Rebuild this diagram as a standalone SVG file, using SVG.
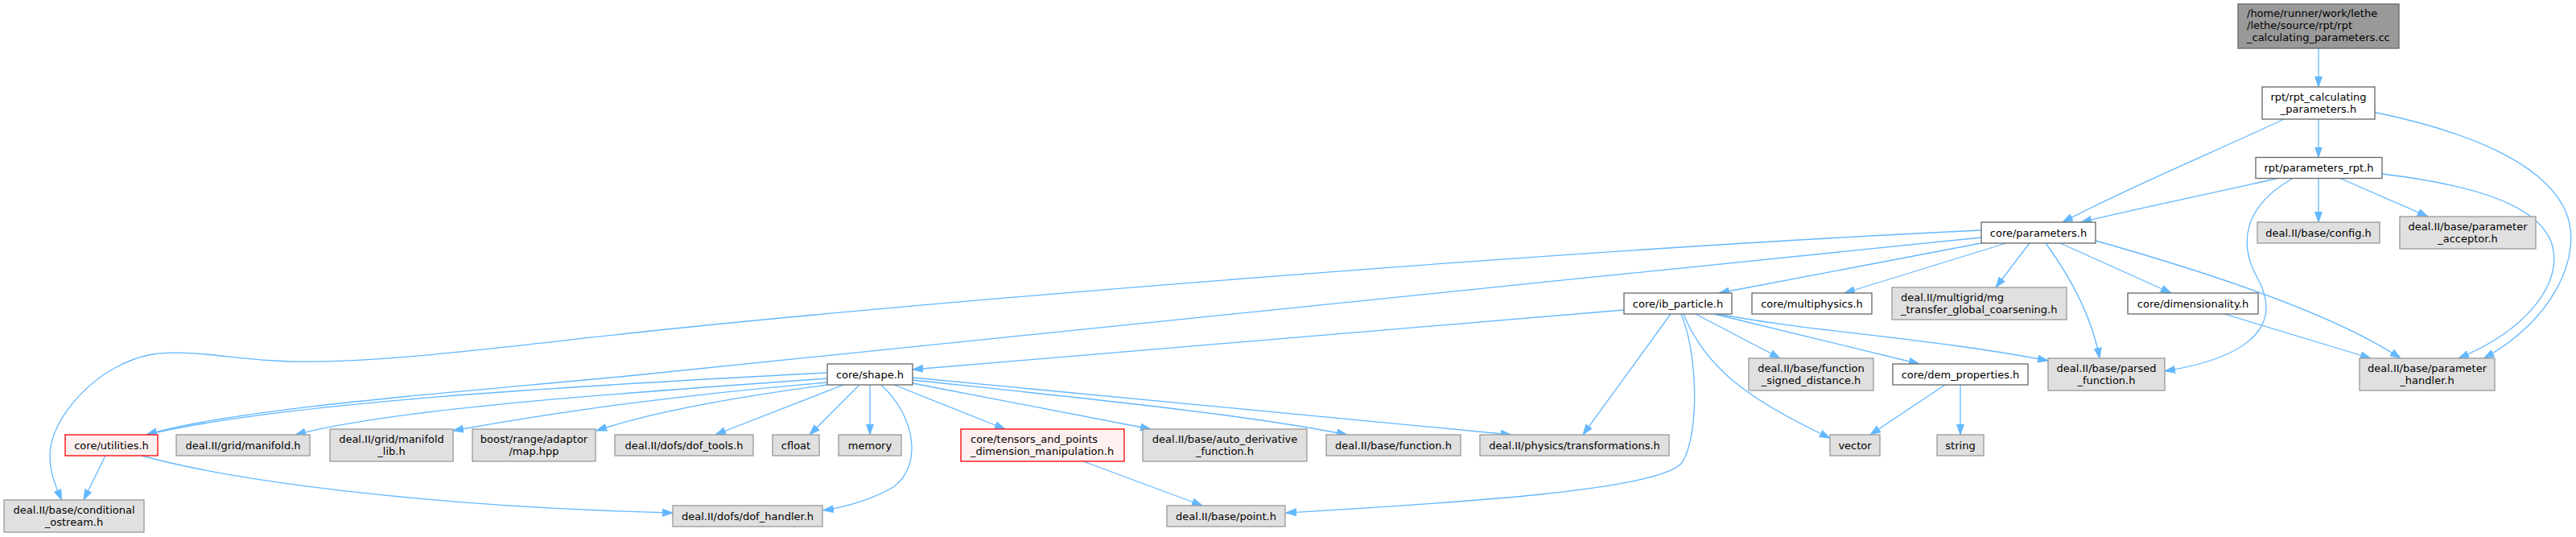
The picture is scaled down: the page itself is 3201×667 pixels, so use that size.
<svg xmlns="http://www.w3.org/2000/svg" width="3201" height="667" viewBox="0 0 3201 667">
<style>
rect{stroke-width:1.3}
.w rect{fill:#fff;stroke:#666}
.x rect{fill:#e0e0e0;stroke:#999}
.r rect{fill:#fff0f0;stroke:#f00}
.rt rect{fill:#999;stroke:#666}
text{font-family:"DejaVu Sans",sans-serif;font-size:13px;fill:#000}
.c text{text-anchor:middle}
#edges path{fill:none;stroke:#63B8FF;stroke-width:1.3;marker-end:url(#ah)}
</style>
<defs>
<marker id="ah" viewBox="0 0 14 10" refX="13" refY="5" markerWidth="14" markerHeight="10" markerUnits="userSpaceOnUse" orient="auto"><path d="M0,0.5 L13,5 L0,9.5 z" fill="#63B8FF" stroke="#63B8FF" stroke-width="1"/></marker>
</defs>
<rect x="0" y="0" width="3201" height="667" fill="#fff" stroke="none"/>
<g id="edges">
<path d="M2881,60 L2881,108"/>
<path d="M2881,148 L2881,195.5"/>
<path d="M2838,148 C2760,185 2640,235 2563,276"/>
<path d="M2951,139.5 C3060,162 3160,200 3188,262 C3212,318 3170,400 3086.5,445"/>
<path d="M2830,221.5 C2750,240 2660,258 2586,276"/>
<path d="M2881,221.5 L2881,276"/>
<path d="M2908,221.5 L3017,269"/>
<path d="M2960,216 C3060,228 3150,250 3170,300 C3188,350 3140,410 3055,445"/>
<path d="M2849,221.5 C2790,255 2780,300 2805,345 C2830,390 2820,440 2690,461"/>
<path d="M2462,286 C1950,310 1150,375 800,412 C620,431 450,455 340,448 C280,444 230,434 190,440 C120,452 62,520 62,565 C62,590 70,605 76.5,621"/>
<path d="M2462,295 C1900,352 1300,414 800,465 C600,485 300,505 182,540"/>
<path d="M2462,302 L2136,364"/>
<path d="M2493,302 L2292,364"/>
<path d="M2522,302 L2480,357"/>
<path d="M2542,302 C2566,335 2598,385 2609,445"/>
<path d="M2560,302 L2698,364"/>
<path d="M2604,299 C2750,340 2900,390 2983,445"/>
<path d="M2764,390 L2946,445"/>
<path d="M2018,385 L1134,459"/>
<path d="M2076,390 L1967,540"/>
<path d="M2089,390 C2110,440 2112,540 2090,575 C2060,610 1800,625 1598,637"/>
<path d="M2092,390 C2120,460 2180,500 2274,544"/>
<path d="M2107,390 L2212,445"/>
<path d="M2130,390 L2385,452"/>
<path d="M2135,390 C2250,412 2400,420 2545,448"/>
<path d="M1028,463 C700,480 350,500 182,540"/>
<path d="M1028,470 C800,487 500,505 367,540"/>
<path d="M1028,475 C850,490 700,510 563,535"/>
<path d="M1028,478 C900,495 800,515 741,535"/>
<path d="M1048,478 L889,540"/>
<path d="M1068,478 L1006,540"/>
<path d="M1081,478 L1081,540"/>
<path d="M1095,478 C1140,520 1145,580 1110,605 C1085,620 1050,630 1023,634"/>
<path d="M1111,478 L1249,533"/>
<path d="M1134,476 L1430,533"/>
<path d="M1134,472 C1350,495 1550,515 1674,540"/>
<path d="M1134,469 L1878,540"/>
<path d="M131,566 L104,621"/>
<path d="M176,566 C300,600 550,630 836,637"/>
<path d="M1346,573 L1494,628"/>
<path d="M2417,478 L2324,540"/>
<path d="M2436,478 L2436,540"/>
</g>
<g id="root" class="rt"><rect x="2781" y="5" width="200" height="55"/><text x="2792" y="21">/home/runner/work/lethe</text><text x="2792" y="36">/lethe/source/rpt/rpt</text><text x="2792" y="51">_calculating_parameters.cc</text></g>
<g id="rpt_calculating_parameters" class="w c"><rect x="2811" y="108" width="140" height="40"/><text x="2881" y="124.5">rpt/rpt_calculating</text><text x="2881" y="139.5">_parameters.h</text></g>
<g id="parameters_rpt" class="w c"><rect x="2803" y="195.5" width="157" height="26"/><text x="2881.5" y="213">rpt/parameters_rpt.h</text></g>
<g id="core_parameters" class="w c"><rect x="2462" y="276" width="142" height="26"/><text x="2533" y="293.5">core/parameters.h</text></g>
<g id="config" class="x c"><rect x="2805" y="276" width="152" height="26"/><text x="2881" y="293.5">deal.II/base/config.h</text></g>
<g id="parameter_acceptor" class="x c"><rect x="2982" y="269" width="169" height="40"/><text x="3066.5" y="285.5">deal.II/base/parameter</text><text x="3066.5" y="300.5">_acceptor.h</text></g>
<g id="ib_particle" class="w c"><rect x="2018" y="364" width="134" height="26"/><text x="2085" y="381.5">core/ib_particle.h</text></g>
<g id="multiphysics" class="w c"><rect x="2177" y="364" width="149" height="26"/><text x="2251.5" y="381.5">core/multiphysics.h</text></g>
<g id="mg_transfer" class="x"><rect x="2351" y="357" width="217" height="40"/><text x="2362" y="373.5">deal.II/multigrid/mg</text><text x="2362" y="388.5">_transfer_global_coarsening.h</text></g>
<g id="dimensionality" class="w c"><rect x="2644" y="364" width="162" height="26"/><text x="2725" y="381.5">core/dimensionality.h</text></g>
<g id="shape" class="w c"><rect x="1028" y="452" width="106" height="26"/><text x="1081" y="469.5">core/shape.h</text></g>
<g id="function_signed_distance" class="x c"><rect x="2173" y="445" width="155" height="40"/><text x="2250.5" y="461.5">deal.II/base/function</text><text x="2250.5" y="476.5">_signed_distance.h</text></g>
<g id="dem_properties" class="w c"><rect x="2352" y="452" width="168" height="26"/><text x="2436" y="469.5">core/dem_properties.h</text></g>
<g id="parsed_function" class="x c"><rect x="2545" y="445" width="145" height="40"/><text x="2617.5" y="461.5">deal.II/base/parsed</text><text x="2617.5" y="476.5">_function.h</text></g>
<g id="parameter_handler" class="x c"><rect x="2932" y="445" width="168" height="40"/><text x="3016" y="461.5">deal.II/base/parameter</text><text x="3016" y="476.5">_handler.h</text></g>
<g id="utilities" class="r c"><rect x="81" y="540" width="115" height="26"/><text x="138.5" y="557.5">core/utilities.h</text></g>
<g id="manifold" class="x c"><rect x="219" y="540" width="166" height="26"/><text x="302" y="557.5">deal.II/grid/manifold.h</text></g>
<g id="manifold_lib" class="x c"><rect x="410" y="533" width="153" height="40"/><text x="486.5" y="549.5">deal.II/grid/manifold</text><text x="486.5" y="564.5">_lib.h</text></g>
<g id="boost_map" class="x c"><rect x="587" y="533" width="153" height="40"/><text x="663.5" y="549.5">boost/range/adaptor</text><text x="663.5" y="564.5">/map.hpp</text></g>
<g id="dof_tools" class="x c"><rect x="764" y="540" width="172" height="26"/><text x="850" y="557.5">deal.II/dofs/dof_tools.h</text></g>
<g id="cfloat" class="x c"><rect x="960" y="540" width="58" height="26"/><text x="989" y="557.5">cfloat</text></g>
<g id="memory" class="x c"><rect x="1042" y="540" width="78" height="26"/><text x="1081" y="557.5">memory</text></g>
<g id="tensors" class="r"><rect x="1194" y="533" width="203" height="40"/><text x="1206" y="549.5">core/tensors_and_points</text><text x="1206" y="564.5">_dimension_manipulation.h</text></g>
<g id="auto_derivative" class="x c"><rect x="1420" y="533" width="204" height="40"/><text x="1522" y="549.5">deal.II/base/auto_derivative</text><text x="1522" y="564.5">_function.h</text></g>
<g id="function_h" class="x c"><rect x="1648" y="540" width="167" height="26"/><text x="1731.5" y="557.5">deal.II/base/function.h</text></g>
<g id="transformations" class="x c"><rect x="1839" y="540" width="235" height="26"/><text x="1956.5" y="557.5">deal.II/physics/transformations.h</text></g>
<g id="vector" class="x c"><rect x="2274" y="540" width="62" height="26"/><text x="2305" y="557.5">vector</text></g>
<g id="string" class="x c"><rect x="2407" y="540" width="58" height="26"/><text x="2436" y="557.5">string</text></g>
<g id="conditional_ostream" class="x c"><rect x="5" y="621" width="174" height="40"/><text x="92" y="637.5">deal.II/base/conditional</text><text x="92" y="652.5">_ostream.h</text></g>
<g id="dof_handler" class="x c"><rect x="836" y="628" width="186" height="26"/><text x="929" y="645.5">deal.II/dofs/dof_handler.h</text></g>
<g id="point" class="x c"><rect x="1450" y="628" width="147" height="26"/><text x="1523.5" y="645.5">deal.II/base/point.h</text></g>
</svg>
